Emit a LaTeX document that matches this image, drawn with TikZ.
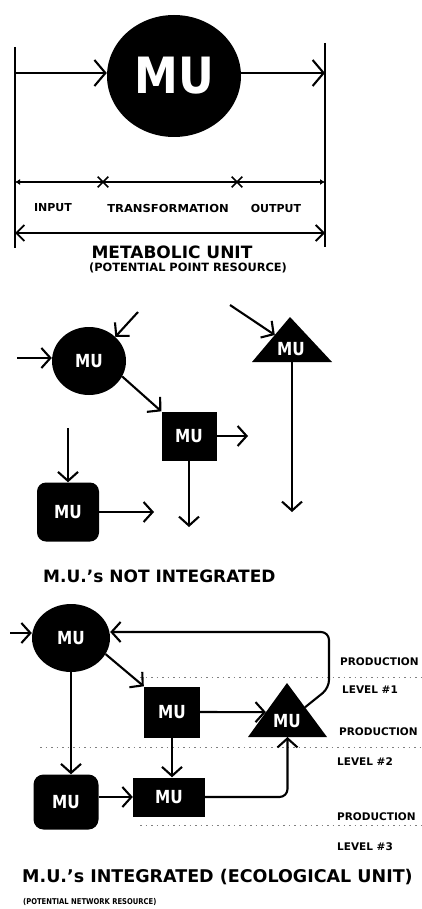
\documentclass[tikz,border=0pt]{standalone}
\usepackage{fontspec}
\setmainfont{DejaVu Sans}
\usetikzlibrary{arrows.meta,shapes.geometric,shapes.misc,calc}
\newcommand{\mutxt}{\scalebox{0.85}[1]{MU}}
\begin{document}
\begin{tikzpicture}[x=1pt,y=-1pt,
  ln/.style={line width=2.1pt},
  bigtip/.style={-{Straight Barb[length=11pt,width=26pt,line width=2.1pt]}},
  arr/.style={ln,-{Straight Barb[length=9pt,width=20pt,line width=2.1pt]}},
  dimln/.style={line width=1.6pt},
  blob/.style={fill=black,inner sep=0pt,text=white,font=\fontsize{18}{18}\selectfont\bfseries},
  circ/.style={blob,ellipse},
  sq/.style={blob,rectangle},
  rsq/.style={blob,rectangle,rounded corners=9pt},
  smlab/.style={font=\fontsize{11}{11}\selectfont\bfseries,inner sep=0pt},
  captxt/.style={font=\fontsize{17}{17}\selectfont\bfseries,inner sep=0pt},
  lvl/.style={font=\fontsize{10.5}{10.5}\selectfont\bfseries,inner sep=0pt,anchor=west},
  lvline/.style={gray,line width=0.9pt,dash pattern=on 1.5pt off 4pt}
]
\useasboundingbox (0,0) rectangle (421,909);
% ---------- top: metabolic unit ----------
\node[circ,minimum width=134pt,minimum height=122pt,font=\fontsize{50}{50}\selectfont\bfseries] (c0) at (174,76) {\scalebox{0.88}[1]{MU}};
\coordinate (lt) at (15,47); \coordinate (lb) at (15,248);
\coordinate (rt) at (325,43); \coordinate (rb) at (325,247);
\draw[ln] (lt) -- (lb);
\draw[ln] (rt) -- (rb);
\coordinate (in0) at (15,73);
\draw[ln,bigtip] (in0) -- (in0 -| c0.west);
\draw[ln,bigtip] (c0.east |- in0) -- (in0 -| rt);
% dimension line
\coordinate (d1l) at (15,182); \coordinate (d1r) at (325,182);
\draw[dimln,{Latex[length=5pt,width=6pt]}-{Latex[length=5pt,width=6pt]}] (d1l) -- (d1r);
\node[cross out,draw,line width=1.6pt,minimum size=9pt,inner sep=0pt] (x1) at (103,182) {};
\node[cross out,draw,line width=1.6pt,minimum size=9pt,inner sep=0pt] (x2) at (237,182) {};
\node[smlab] (inp) at (53,208) {INPUT};
\node[smlab] (trf) at (168,208) {\scalebox{1.05}[1]{TRANSFORMATION}};
\node[smlab] (outp) at (276,208) {OUTPUT};
\coordinate (d2l) at (15,233); \coordinate (d2r) at (325,233);
\draw[ln,{Straight Barb[length=8pt,width=16pt,line width=1.8pt]}-{Straight Barb[length=8pt,width=16pt,line width=1.8pt]}] (d2l) -- (d2r);
\node[font=\fontsize{17}{17}\selectfont\bfseries,inner sep=0pt] (mu) at (172,252) {METABOLIC UNIT};
\node[font=\fontsize{11.4}{11.4}\selectfont\bfseries,inner sep=0pt] (pr) at (188,268) {(POTENTIAL POINT RESOURCE)};
% ---------- middle: not integrated ----------
\node[circ,minimum width=74pt,minimum height=68pt] (c1) at (89,361) {\mutxt};
\node[sq,minimum width=55pt,minimum height=49pt] (s1) at (189,436) {\mutxt};
\node[rsq,minimum width=62pt,minimum height=59pt] (r1) at (68,512) {\mutxt};
\coordinate (t2a) at (290,317); \coordinate (t2l) at (252,362); \coordinate (t2r) at (332,362);
\fill (t2a) -- (t2l) -- (t2r) -- cycle;
\node[blob,fill=none] (t2) at (291,349) {\mutxt};
\coordinate (c1in) at (17,358);
\draw[arr] (c1in) -- (c1in -| c1.west);
\coordinate (c1in2) at (138,312);
\draw[arr] (c1in2) -- (c1.north east);
\draw[arr] (c1.-25) -- (s1.north west);
\coordinate (s1o) at (248,436);
\draw[arr] (s1.east) -- (s1o);
\coordinate (s1d) at (189,527);
\draw[arr] (s1.south) -- (s1d);
\coordinate (r1in) at (68,428);
\draw[arr] (r1in) -- (r1.north);
\coordinate (r1o) at (154,512);
\draw[arr] (r1.east) -- (r1o);
\coordinate (t2in) at (230,305);
\draw[arr] (t2in) -- ($(t2a)!0.4!(t2l)$);
\coordinate (t2b) at ($(t2l)!0.5!(t2r)$);
\coordinate (t2d) at (292,512);
\draw[arr] (t2b) -- (t2d);
\node[captxt,anchor=west] (cap2) at (43,576) {M.U.'s NOT INTEGRATED};
% ---------- bottom: integrated ----------
\draw[lvline] (140,677) -- (421,677);
\draw[lvline] (40,747) -- (421,747);
\draw[lvline] (140,825) -- (421,825);
\node[circ,minimum width=78pt,minimum height=68pt] (c2) at (71,638) {\mutxt};
\node[sq,minimum width=56pt,minimum height=51pt] (s2) at (172,712) {\mutxt};
\node[sq,minimum width=72pt,minimum height=39pt] (s3) at (169,797) {\mutxt};
\node[rsq,minimum width=65pt,minimum height=55pt,rounded corners=10pt] (r2) at (66,802) {\mutxt};
\coordinate (t3a) at (287,683); \coordinate (t3l) at (248,737); \coordinate (t3r) at (327,737);
\fill (t3a) -- (t3l) -- (t3r) -- cycle;
\node[blob,fill=none] (t3) at (287,721) {\mutxt};
\coordinate (t3b) at ($(t3l)!0.5!(t3r)$);
\coordinate (c2in) at (10,633);
\draw[arr] (c2in) -- (c2in -| c2.west);
\coordinate (fbs) at ($(t3a)!0.45!(t3r)$);
\coordinate (fb1) at (329,688); \coordinate (fb2) at (329,632);
\draw[arr,rounded corners=8pt] (fbs) -- (fb1) -- (fb2) -- (fb2 -| c2.east);
\draw[arr] (c2.-25) -- (s2.north west);
\draw[arr] (s2.east) -- ($(t3a)!0.54!(t3l)$);
\draw[arr] (s2.south) -- (s2.south |- s3.north);
\draw[arr] (c2.south) -- (c2.south |- r2.north);
\draw[arr] (r2.east |- s3.west) -- (s3.west);
\draw[arr,rounded corners=8pt] (s3.east) -- (s3.east -| t3b) -- (t3b);
\node[lvl] (p1) at (340,662) {PRODUCTION};
\node[lvl] (l1) at (342,690) {LEVEL \#1};
\node[lvl] (p2) at (339,732) {PRODUCTION};
\node[lvl] (l2) at (337,762) {LEVEL \#2};
\node[lvl] (p3) at (337,817) {PRODUCTION};
\node[lvl] (l3) at (337,847) {LEVEL \#3};
\node[font=\fontsize{17.5}{17.5}\selectfont\bfseries,inner sep=0pt,anchor=west] (cap3) at (22,877) {M.U.'s INTEGRATED (ECOLOGICAL UNIT)};
\node[font=\fontsize{8}{8}\selectfont\bfseries,inner sep=0pt,anchor=west] (cap3b) at (23,902) {\scalebox{0.85}[1]{(POTENTIAL NETWORK RESOURCE)}};
\end{tikzpicture}
\end{document}
